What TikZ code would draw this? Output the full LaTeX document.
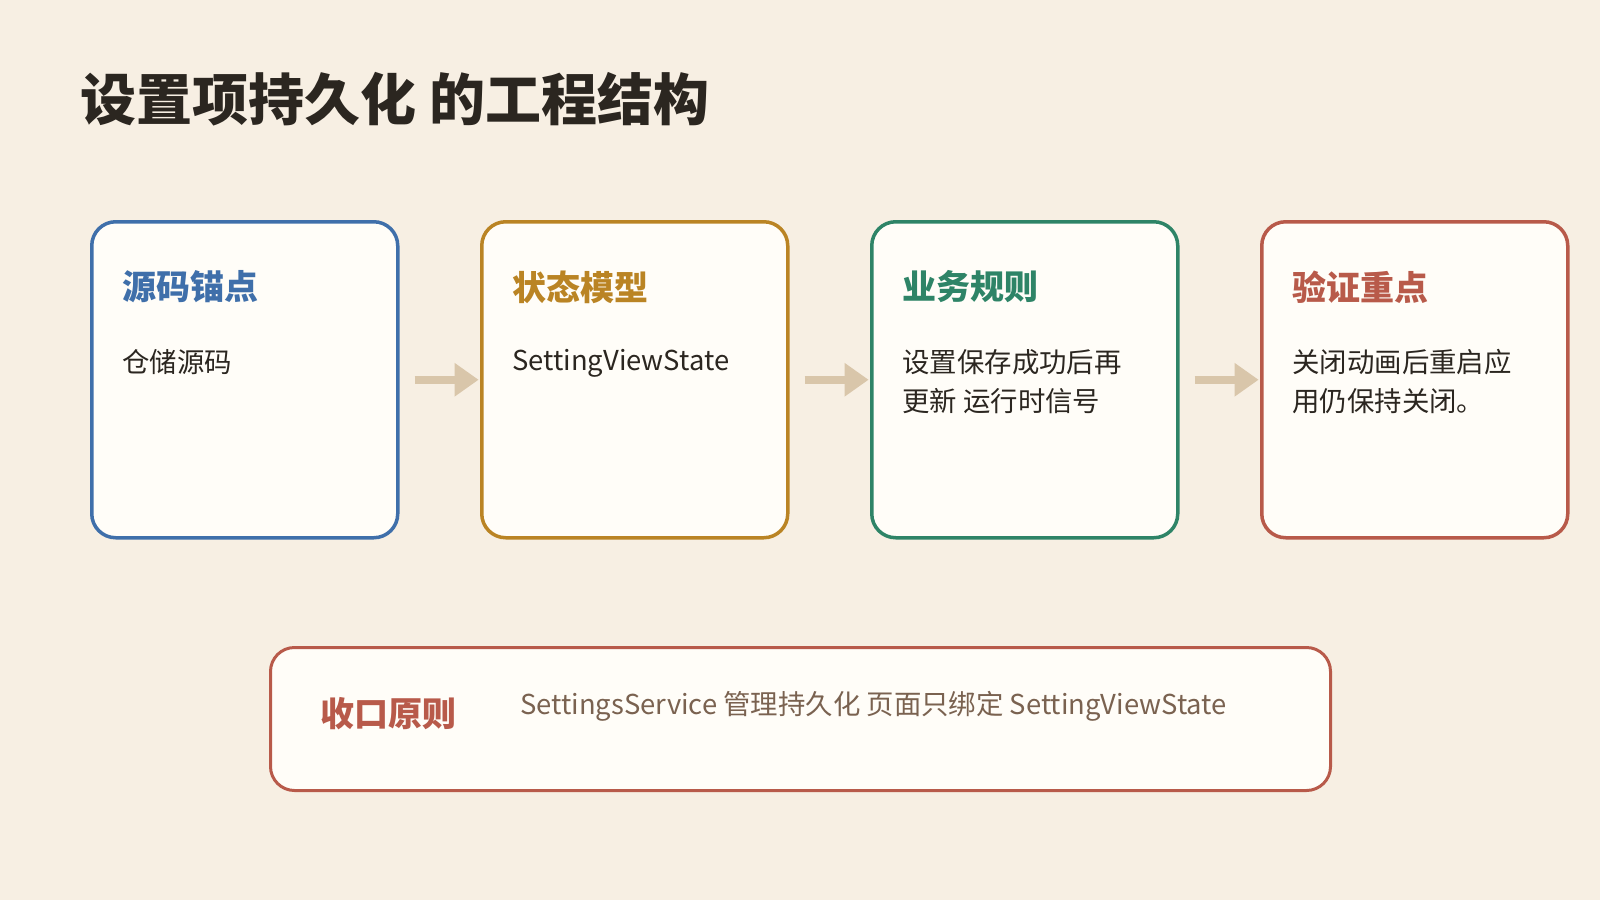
\documentclass[tikz,border=0pt]{standalone}
\usepackage{fontspec}
\setmainfont{Noto Sans CJK SC}
\usepackage{xcolor}
\usepackage{tikz}
\usetikzlibrary{arrows.meta}
\definecolor{paper}{HTML}{F7EFE3}
\definecolor{cardfill}{HTML}{FFFDF8}
\definecolor{ink}{HTML}{2B2620}
\definecolor{srcblue}{HTML}{3F6FAA}
\definecolor{stategold}{HTML}{BA8424}
\definecolor{rulegreen}{HTML}{2E8467}
\definecolor{checkred}{HTML}{B85A4A}
\definecolor{flowtan}{HTML}{D9C6AA}
\definecolor{notebrown}{HTML}{7A6250}

\begin{document}
\begin{tikzpicture}[x=0.5pt,y=-0.5pt,
    card/.style={draw,line width=1.75pt,fill=cardfill,rounded corners=12pt,minimum width=153pt,minimum height=158pt,anchor=north west},
    boxhead/.style={anchor=west,inner sep=0pt,font=\fontsize{17pt}{20pt}\selectfont\bfseries},
    boxtext/.style={anchor=north west,inner sep=0pt,align=left,text=ink,font=\fontsize{13.7pt}{19.5pt}\selectfont},
    flowarrow/.style={flowtan,line width=4pt,-{Triangle[length=12pt,width=16pt]},shorten <=7.5pt,shorten >=0.7pt}]
      \useasboundingbox (0,0) rectangle (1600,900);
      \fill[paper] (0,0) rectangle (1600,900);
      \node[anchor=west,inner sep=0pt,text=ink,font=\fontsize{28pt}{32pt}\selectfont\bfseries] (title) at (80,99) {设置项持久化 的工程结构};
      % four cards
      \node[card,draw=srcblue] (src) at (90,220) {};
      \node[card,draw=stategold] (state) at (480,220) {};
      \node[card,draw=rulegreen] (rule) at (870,220) {};
      \node[card,draw=checkred] (check) at (1260,220) {};
      \node[boxhead,text=srcblue] (src-h) at (122,287) {源码锚点};
      \node[boxtext] (src-b) at (122,349) {仓储源码};
      \node[boxhead,text=stategold] (state-h) at (512,287) {状态模型};
      \node[boxtext] (state-b) at (512,349) {SettingViewState};
      \node[boxhead,text=rulegreen] (rule-h) at (902,287) {业务规则};
      \node[boxtext] (rule-b) at (902,349) {设置保存成功后再\\更新 运行时信号};
      \node[boxhead,text=checkred] (check-h) at (1292,287) {验证重点};
      \node[boxtext] (check-b) at (1292,349) {关闭动画后重启应\\用仍保持关闭。};
      \draw[flowarrow] (src) -- (state);
      \draw[flowarrow] (state) -- (rule);
      \draw[flowarrow] (rule) -- (check);
      % closing note
      \node[card,draw=checkred,line width=1.5pt,minimum width=530pt,minimum height=71.5pt] (note) at (269,646) {};
      \node[boxhead,text=checkred] (note-h) at (320,714) {收口原则};
      \node[anchor=west,inner sep=0pt,text=notebrown,font=\fontsize{13.7pt}{16pt}\selectfont] (note-b) at (520,706) {SettingsService 管理持久化 页面只绑定 SettingViewState};
    \end{tikzpicture}
\end{document}
